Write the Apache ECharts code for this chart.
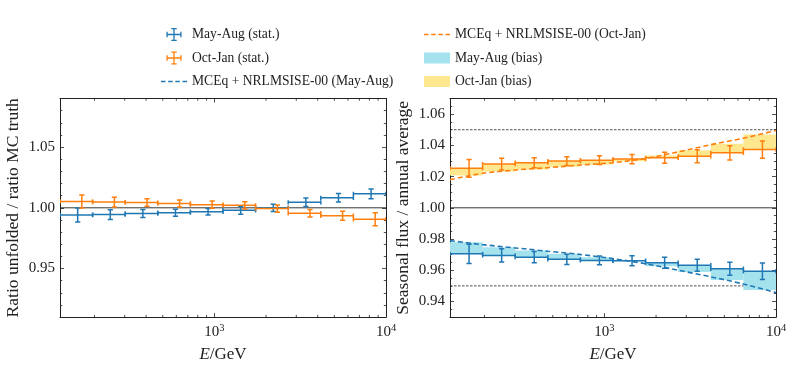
<!DOCTYPE html>
<html>
<head>
<meta charset="utf-8">
<script src="https://cdn.jsdelivr.net/npm/echarts@6/dist/echarts.min.js"></script>
<style>
  html, body { margin: 0; padding: 0; background: #fff; }
  #chart { width: 793px; height: 368px; }
</style>
</head>
<body>
<div id="chart"></div>
<script>
// energy bins (GeV), log spaced
const binEdges = [125.9, 195.0, 302.0, 467.7, 724.4, 1122.0, 1737.8, 2691.5, 4168.7, 6456.5, 10000];
// where the markers sit inside each bin
const ePtsAugL = [159.6, 247.2, 382.8, 592.9, 918.3, 1422.3, 2202.9, 3411.9, 5284.5, 8184.6];
const ePtsOctL = [168.7, 261.2, 404.6, 626.6, 970.5, 1503.2, 2328.0, 3606.0, 5584.7, 8649.7];
const ePtsR = [162.6, 251.8, 389.9, 603.9, 935.4, 1448.8, 2243.7, 3475.4, 5382.7, 8336.6];

// left panel: ratio unfolded / ratio MC truth
const ratioAug = [0.9941, 0.9944, 0.9953, 0.9960, 0.9968, 0.9980, 1.0000, 1.0045, 1.0082, 1.0115];
const ratioAugErr = [0.0057, 0.0040, 0.0032, 0.0029, 0.0027, 0.0033, 0.0030, 0.0035, 0.0035, 0.0040];
const ratioOct = [1.0052, 1.0047, 1.0043, 1.0036, 1.0026, 1.0020, 0.9994, 0.9955, 0.9935, 0.9906];
const ratioOctErr = [0.0054, 0.0040, 0.0031, 0.0029, 0.0029, 0.0030, 0.0030, 0.0031, 0.0037, 0.0054];

// right panel: seasonal flux / annual average
const seasAug = [0.9705, 0.9695, 0.9684, 0.9670, 0.9663, 0.9661, 0.9648, 0.9632, 0.9610, 0.9594];
const seasAugErr = [0.0061, 0.0042, 0.0036, 0.0033, 0.0028, 0.0032, 0.0035, 0.0039, 0.0042, 0.0053];
const seasAugBias = [0.9779, 0.9747, 0.9726, 0.9705, 0.9684, 0.9657, 0.9625, 0.9589, 0.9537, 0.9474];
const seasOct = [1.0253, 1.0280, 1.0289, 1.0299, 1.0305, 1.0312, 1.0320, 1.0330, 1.0352, 1.0373];
const seasOctErr = [0.0057, 0.0038, 0.0032, 0.0028, 0.0028, 0.0030, 0.0035, 0.0042, 0.0046, 0.0055];
const seasOctBias = [1.0207, 1.0232, 1.0246, 1.0263, 1.0278, 1.0298, 1.0335, 1.0368, 1.0410, 1.0470];

// MCEq + NRLMSISE-00 prediction at the bin edges
const modelAug = [0.9790, 0.9764, 0.9743, 0.9722, 0.9701, 0.9674, 0.9642, 0.9600, 0.9558, 0.9512, 0.9457];
const modelOct = [1.0180, 1.0221, 1.0242, 1.0257, 1.0274, 1.0289, 1.0316, 1.0358, 1.0404, 1.0446, 1.0495];

const unity = 1.0;
const biasLimits = [1.05, 0.95];
const minorTickE = [200, 300, 400, 500, 600, 700, 800, 900, 2000, 3000, 4000, 5000, 6000, 7000, 8000, 9000];

const FONT = 'Liberation Serif';
const BLUE = '#1f77b4';
const ORANGE = '#ff7f0e';
const CYAN = '#a4e3ee';
const YELLOW = '#fee88f';
const INK = '#222';

// legend glyphs
const crossIcon = 'path://M0,5.4H14V6.6H0Z M6.4,0H7.6V12H6.4Z M0,3.5H1.2V8.5H0Z M12.8,3.5H14V8.5H12.8Z M4.5,0H9.5V1.2H4.5Z M4.5,10.8H9.5V12H4.5Z';
const dashIcon = 'path://M0,0H4.3V1.6H0Z M6.9,0H11.2V1.6H6.9Z M13.8,0H18.1V1.6H13.8Z M20.7,0H25V1.6H20.7Z';

const chart = echarts.init(document.getElementById('chart'));

// error bar: horizontal bin width + vertical stat error, with caps
function errBarItem(params, api) {
    const xp = api.value(0), x0 = api.value(1), x1 = api.value(2), y = api.value(3), e = api.value(4);
    const pL = api.coord([x0, y]), pR = api.coord([x1, y]);
    const pT = api.coord([xp, y + e]), pB = api.coord([xp, y - e]);
    const c = api.visual('color');
    const cx = 2.2, cy = 2.6;
    const segs = [
        [pL, pR],
        [[pL[0], pL[1] - cx], [pL[0], pL[1] + cx]],
        [[pR[0], pR[1] - cx], [pR[0], pR[1] + cx]],
        [pT, pB],
        [[pT[0] - cy, pT[1]], [pT[0] + cy, pT[1]]],
        [[pB[0] - cy, pB[1]], [pB[0] + cy, pB[1]]]
    ];
    return {
        type: 'group',
        children: segs.map(s => ({
            type: 'line',
            shape: { x1: s[0][0], y1: s[0][1], x2: s[1][0], y2: s[1][1] },
            style: { stroke: c, lineWidth: 1.5, fill: null }
        }))
    };
}

// bias band: step fill between data and prediction
function bandItem(params, api) {
    const a = api.coord([api.value(0), api.value(2)]);
    const b = api.coord([api.value(1), api.value(3)]);
    return {
        type: 'rect',
        shape: {
            x: Math.min(a[0], b[0]), y: Math.min(a[1], b[1]),
            width: Math.abs(b[0] - a[0]), height: Math.abs(b[1] - a[1])
        },
        style: { fill: api.visual('color') }
    };
}

// log minor ticks on bottom and top frame
function minorTickItem(params, api) {
    const cs = params.coordSys;
    const x = api.coord([api.value(0), api.value(1)])[0];
    const st = { stroke: INK, lineWidth: 0.8 };
    return {
        type: 'group',
        children: [
            { type: 'line', shape: { x1: x, y1: cs.y + cs.height, x2: x, y2: cs.y + cs.height - 2.2 }, style: st },
            { type: 'line', shape: { x1: x, y1: cs.y, x2: x, y2: cs.y + 2.2 }, style: st }
        ]
    };
}

function errRows(ePts, vals, errs) {
    return vals.map((v, i) => [ePts[i], binEdges[i], binEdges[i + 1], v, errs[i]]);
}
function bandRows(vals, bias) {
    return vals.map((v, i) => [binEdges[i], binEdges[i + 1], v, bias[i]]);
}

function xAxisOf(gi, pos) {
    const bottom = pos === 'bottom';
    return {
        type: 'log',
        logBase: 10,
        gridIndex: gi,
        position: pos,
        min: binEdges[0],
        max: binEdges[binEdges.length - 1],
        axisLine: { show: true, onZero: false, lineStyle: { color: INK, width: 1 } },
        axisTick: { show: true, inside: true, length: 4, lineStyle: { color: INK, width: 0.8 } },
        minorTick: { show: false },
        splitLine: { show: false },
        axisLabel: bottom ? {
            show: true,
            margin: 6,
            showMinLabel: true,
            showMaxLabel: true,
            fontFamily: FONT,
            fontSize: 15,
            lineHeight: 18,
            color: INK,
            formatter: function (v) {
                const p = Math.log10(v);
                const r = Math.round(p);
                return Math.abs(p - r) < 1e-6 ? '10{sup|' + r + '}' : '';
            },
            rich: { sup: { fontFamily: FONT, fontSize: 10.5, lineHeight: 10, verticalAlign: 'top', color: INK } }
        } : { show: false },
        name: bottom ? '{it|E}/GeV' : '',
        nameLocation: 'middle',
        nameGap: 26,
        nameTextStyle: {
            fontFamily: FONT, fontSize: 17, color: INK,
            rich: { it: { fontFamily: FONT, fontSize: 17, fontStyle: 'italic', color: INK } }
        }
    };
}

function yAxisOf(gi, pos, min, max, split, minorSplit, title) {
    const left = pos === 'left';
    return {
        type: 'value',
        gridIndex: gi,
        position: pos,
        min: min,
        max: max,
        splitNumber: split,
        axisLine: { show: true, onZero: false, lineStyle: { color: INK, width: 1 } },
        axisTick: { show: true, inside: true, length: 4, lineStyle: { color: INK, width: 0.8 } },
        minorTick: { show: true, splitNumber: minorSplit, length: 2.2, lineStyle: { color: INK, width: 0.8 } },
        splitLine: { show: false },
        axisLabel: left ? {
            show: true, margin: 5, showMinLabel: false, showMaxLabel: false,
            fontFamily: FONT, fontSize: 15, color: INK,
            formatter: v => v.toFixed(2)
        } : { show: false },
        name: left ? title : '',
        nameLocation: 'middle',
        nameGap: 38,
        nameTextStyle: { fontFamily: FONT, fontSize: 17.5, color: INK }
    };
}

function refLine(xi, yi, level, dashed) {
    return {
        type: 'line',
        xAxisIndex: xi, yAxisIndex: yi,
        data: [[binEdges[0], level], [binEdges[binEdges.length - 1], level]],
        symbol: 'none', silent: true, z: 1,
        lineStyle: dashed ? { color: INK, width: 0.8, type: [2.5, 1.5] } : { color: INK, width: 0.9 }
    };
}

const legendText = { fontFamily: FONT, fontSize: 13.6, color: INK, lineHeight: 16 };

const option = {
    animation: false,
    backgroundColor: '#fff',
    textStyle: { fontFamily: FONT },
    legend: [
        {
            left: 156, top: 21.5, orient: 'vertical',
            itemWidth: 26, itemHeight: 13, itemGap: 7.5, selectedMode: false,
            textStyle: legendText,
            data: [
                { name: 'May-Aug (stat.)', icon: crossIcon },
                { name: 'Oct-Jan (stat.)', icon: crossIcon },
                { name: 'MCEq + NRLMSISE-00 (May-Aug)', icon: dashIcon }
            ]
        },
        {
            left: 419, top: 21.5, orient: 'vertical',
            itemWidth: 26, itemHeight: 11, itemGap: 7.5, selectedMode: false,
            textStyle: legendText,
            data: [
                { name: 'MCEq + NRLMSISE-00 (Oct-Jan)', icon: dashIcon },
                { name: 'May-Aug (bias)', icon: 'rect' },
                { name: 'Oct-Jan (bias)', icon: 'rect' }
            ]
        }
    ],
    grid: [
        { left: 60, top: 98.5, width: 326, height: 222.5 },
        { left: 450, top: 98.5, width: 326, height: 222.5 }
    ],
    xAxis: [xAxisOf(0, 'bottom'), xAxisOf(0, 'top'), xAxisOf(1, 'bottom'), xAxisOf(1, 'top')],
    yAxis: [
        yAxisOf(0, 'left', 0.91, 1.09, 4, 5, 'Ratio unfolded / ratio MC truth'),
        yAxisOf(0, 'right', 0.91, 1.09, 4, 5, ''),
        yAxisOf(1, 'left', 0.93, 1.07, 7, 4, 'Seasonal flux / annual average'),
        yAxisOf(1, 'right', 0.93, 1.07, 7, 4, '')
    ],
    series: [
        // left panel
        refLine(0, 0, unity, false),
        {
            type: 'custom', name: 'May-Aug (stat.)', xAxisIndex: 0, yAxisIndex: 0, z: 4, clip: true,
            itemStyle: { color: BLUE }, renderItem: errBarItem,
            data: errRows(ePtsAugL, ratioAug, ratioAugErr)
        },
        {
            type: 'custom', name: 'Oct-Jan (stat.)', xAxisIndex: 0, yAxisIndex: 0, z: 4, clip: true,
            itemStyle: { color: ORANGE }, renderItem: errBarItem,
            data: errRows(ePtsOctL, ratioOct, ratioOctErr)
        },
        {
            type: 'custom', xAxisIndex: 0, yAxisIndex: 0, silent: true, z: 5,
            renderItem: minorTickItem, data: minorTickE.map(e => [e, unity])
        },
        // right panel
        refLine(2, 2, unity, false),
        refLine(2, 2, biasLimits[0], true),
        refLine(2, 2, biasLimits[1], true),
        {
            type: 'custom', name: 'May-Aug (bias)', xAxisIndex: 2, yAxisIndex: 2, z: 2, clip: true,
            itemStyle: { color: CYAN }, renderItem: bandItem,
            data: bandRows(seasAug, seasAugBias)
        },
        {
            type: 'custom', name: 'Oct-Jan (bias)', xAxisIndex: 2, yAxisIndex: 2, z: 2, clip: true,
            itemStyle: { color: YELLOW }, renderItem: bandItem,
            data: bandRows(seasOct, seasOctBias)
        },
        {
            type: 'line', name: 'MCEq + NRLMSISE-00 (May-Aug)', xAxisIndex: 2, yAxisIndex: 2, z: 3,
            symbol: 'none', showSymbol: false, smooth: 0.3, color: BLUE,
            itemStyle: { color: BLUE },
            lineStyle: { color: BLUE, width: 1.6, type: [5, 3] },
            data: binEdges.map((e, i) => [e, modelAug[i]])
        },
        {
            type: 'line', name: 'MCEq + NRLMSISE-00 (Oct-Jan)', xAxisIndex: 2, yAxisIndex: 2, z: 3,
            symbol: 'none', showSymbol: false, smooth: 0.3, color: ORANGE,
            itemStyle: { color: ORANGE },
            lineStyle: { color: ORANGE, width: 1.6, type: [5, 3] },
            data: binEdges.map((e, i) => [e, modelOct[i]])
        },
        {
            type: 'custom', name: 'May-Aug (stat.)', xAxisIndex: 2, yAxisIndex: 2, z: 4, clip: true,
            itemStyle: { color: BLUE }, renderItem: errBarItem,
            data: errRows(ePtsR, seasAug, seasAugErr)
        },
        {
            type: 'custom', name: 'Oct-Jan (stat.)', xAxisIndex: 2, yAxisIndex: 2, z: 4, clip: true,
            itemStyle: { color: ORANGE }, renderItem: errBarItem,
            data: errRows(ePtsR, seasOct, seasOctErr)
        },
        {
            type: 'custom', xAxisIndex: 2, yAxisIndex: 2, silent: true, z: 5,
            renderItem: minorTickItem, data: minorTickE.map(e => [e, unity])
        }
    ]
};

chart.setOption(option);
</script>
</body>
</html>
